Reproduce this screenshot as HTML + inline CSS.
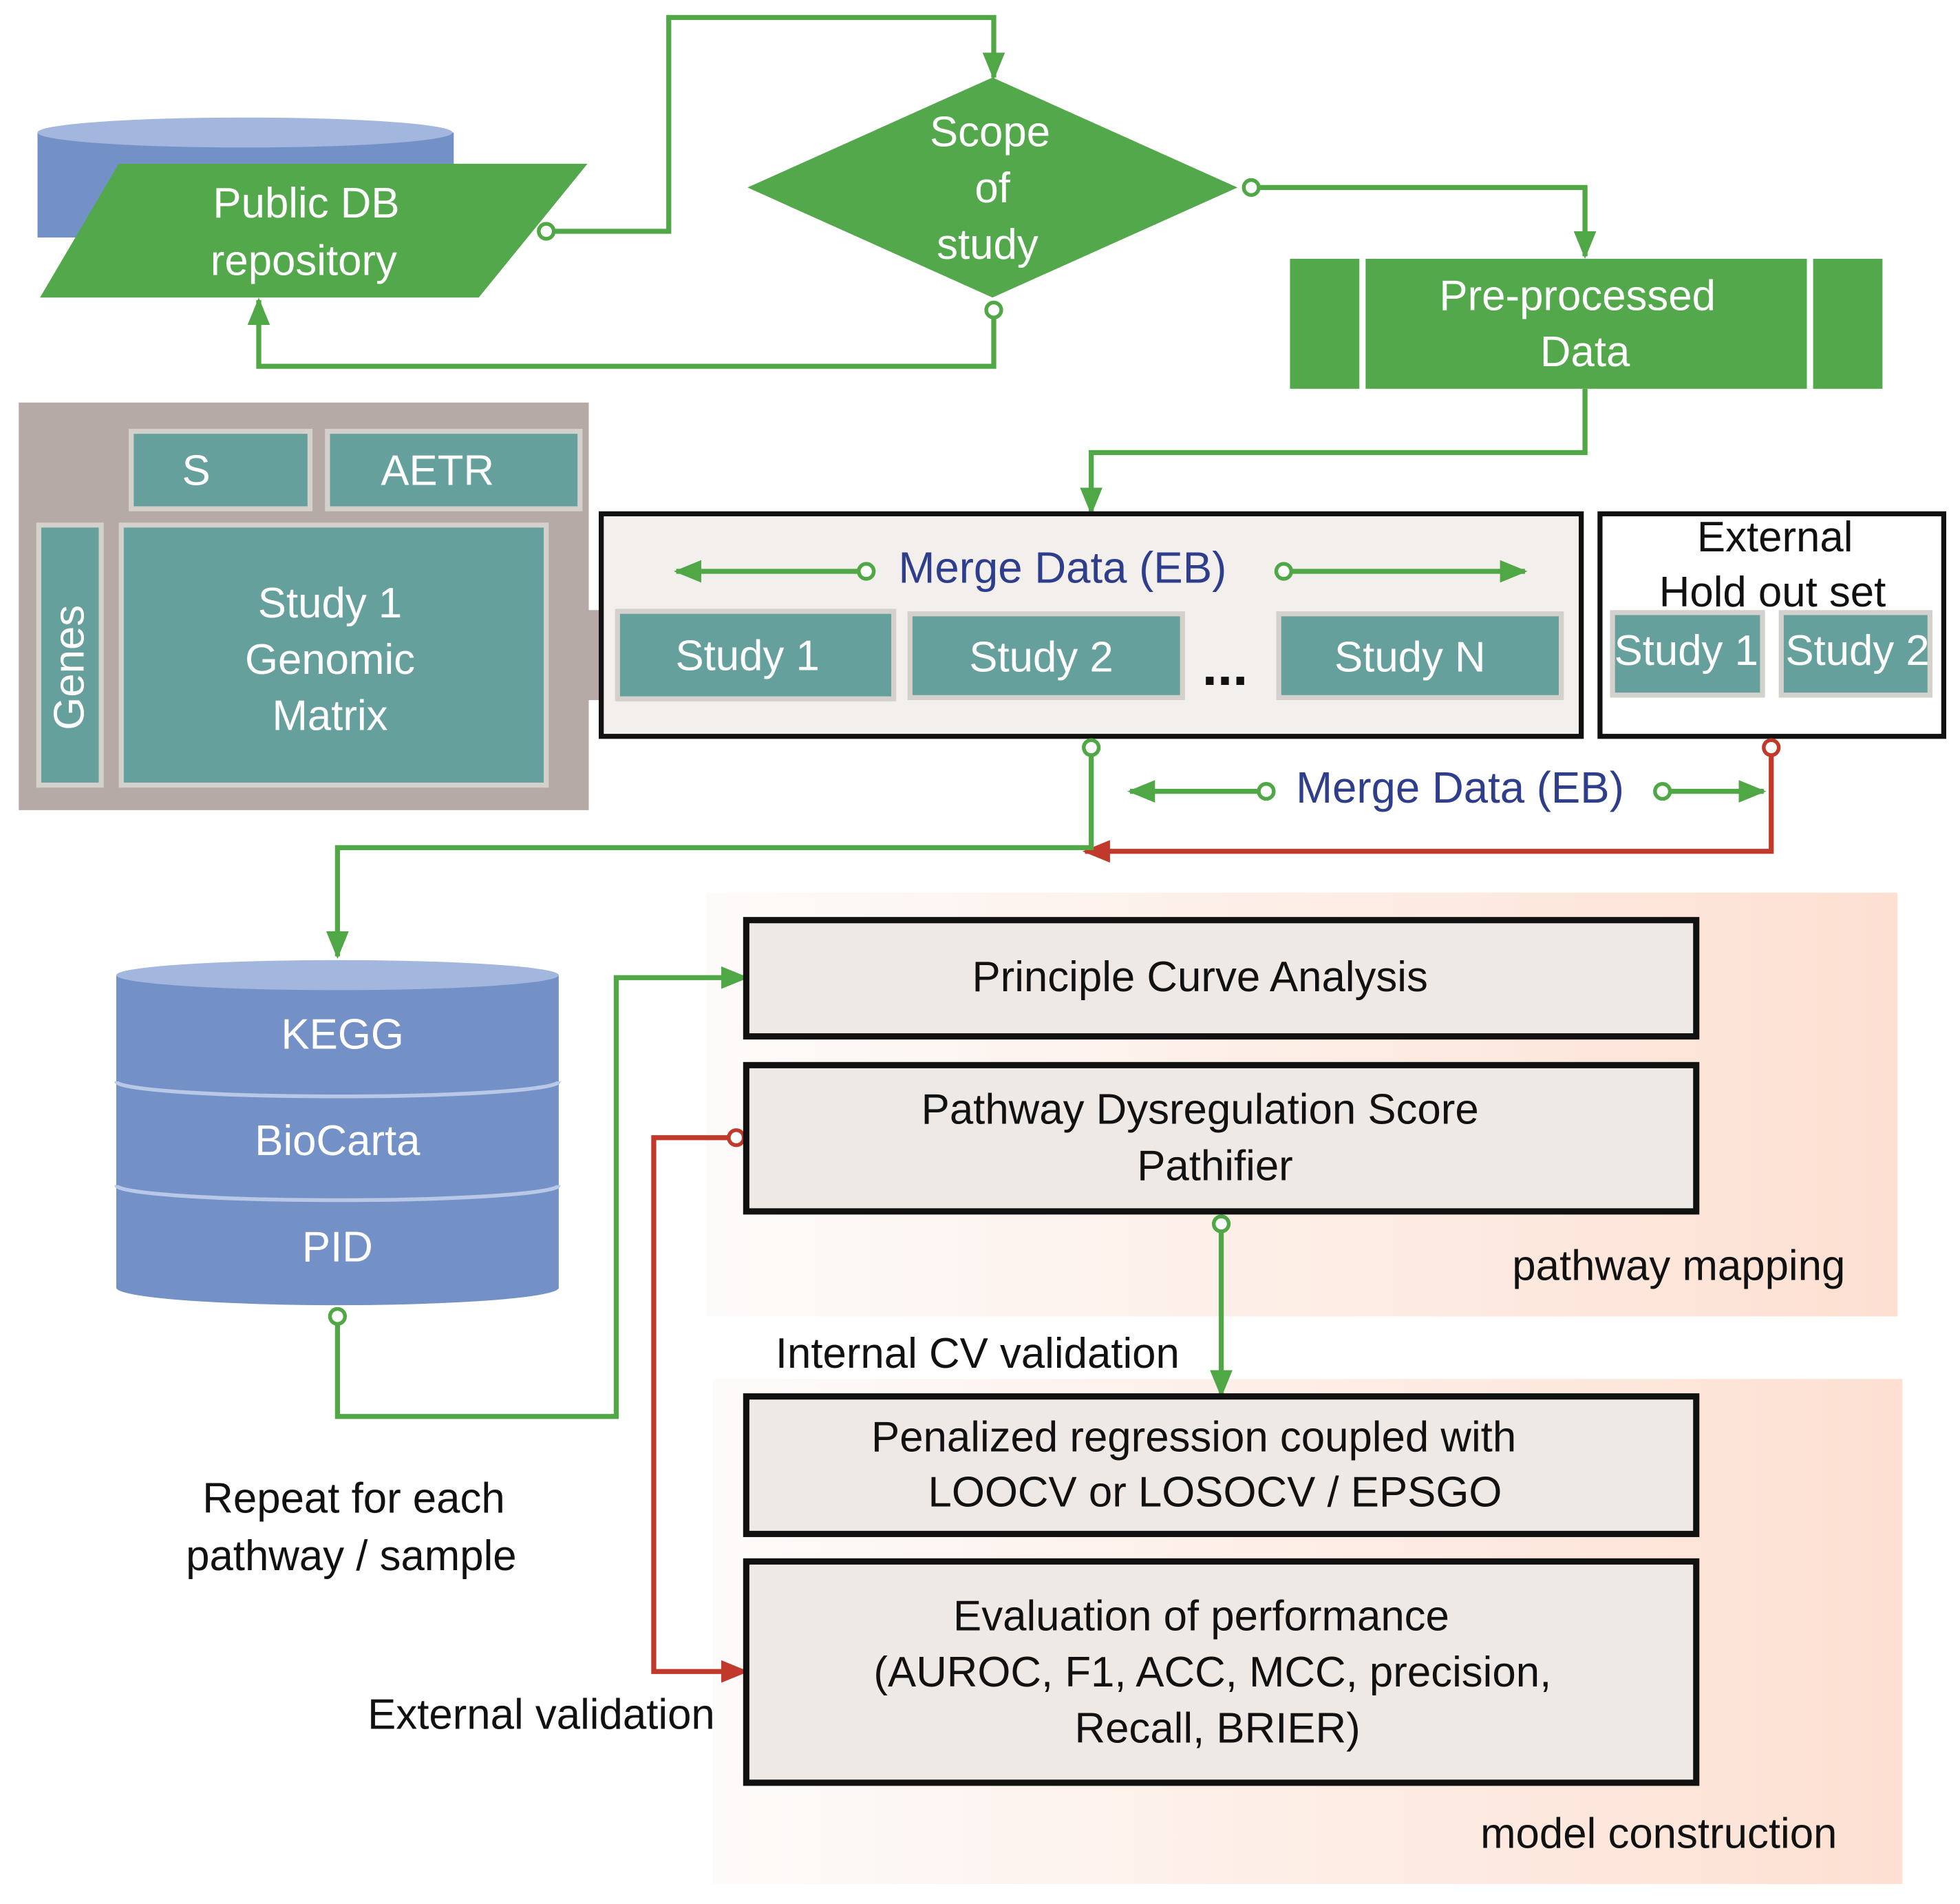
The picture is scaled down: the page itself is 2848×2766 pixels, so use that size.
<!DOCTYPE html>
<html><head><meta charset="utf-8"><style>html,body{margin:0;padding:0;background:#fff}svg{display:block}text{font-family:"Liberation Sans",sans-serif}</style></head><body>
<svg width="2848" height="2766" viewBox="0 0 1568 1523" preserveAspectRatio="none" xmlns="http://www.w3.org/2000/svg">
<defs>
<linearGradient id="pk" x1="0" x2="1" y1="0" y2="0"><stop offset="0" stop-color="#fdfbfa"/><stop offset="1" stop-color="#fde0d2"/></linearGradient>
<marker id="ag" markerWidth="22" markerHeight="18" refX="20" refY="9" orient="auto" markerUnits="userSpaceOnUse" viewBox="0 0 22 18"><path d="M0,0 L22,9 L0,18z" fill="#4fa845"/></marker>
<marker id="ar" markerWidth="22" markerHeight="18" refX="20" refY="9" orient="auto" markerUnits="userSpaceOnUse" viewBox="0 0 22 18"><path d="M0,0 L22,9 L0,18z" fill="#c0392b"/></marker>
</defs>
<style>.g{stroke:#4fa845;stroke-width:4;fill:none}.r{stroke:#c0392b;stroke-width:4;fill:none}.w{fill:#fff;font-size:34px;text-anchor:middle}.k{fill:#111;font-size:34px;text-anchor:middle}.b{fill:#2e3e8a;font-size:35px;text-anchor:middle}.bx{fill:#efe9e6;stroke:#111;stroke-width:5}.t{fill:#66a09d;stroke:#d4d0cc;stroke-width:4}</style>
<rect x="565" y="714" width="953" height="339" fill="url(#pk)"/>
<rect x="570" y="1103" width="952" height="404" fill="url(#pk)"/>
<rect x="30" y="106" width="333" height="84" fill="#7391c7"/>
<ellipse cx="196" cy="106" rx="166" ry="12" fill="#a3b6dd"/>
<polygon points="95,131 470,131 383,238 32,238" fill="#53a84b"/>
<text class="w" x="245" y="174">Public DB</text><text class="w" x="243" y="220">repository</text>
<polygon points="598,150 794,62 990,150 794,238" fill="#53a84b"/>
<text class="w" x="792" y="117">Scope</text><text class="w" x="794" y="162">of</text><text class="w" x="790" y="207">study</text>
<polyline class="g" points="441,185 535,185 535,14 795,14 795,62" marker-end="url(#ag)"/>
<polyline class="g" points="1006,150 1268,150 1268,205" marker-end="url(#ag)"/>
<polyline class="g" points="795,253 795,293 207,293 207,240" marker-end="url(#ag)"/>
<circle cx="437" cy="185" r="6" fill="#fff" stroke="#4fa845" stroke-width="3"/>
<circle cx="1001" cy="150" r="6" fill="#fff" stroke="#4fa845" stroke-width="3"/>
<circle cx="795" cy="248" r="6" fill="#fff" stroke="#4fa845" stroke-width="3"/>
<rect x="1032" y="207" width="474" height="104" fill="#53a84b"/>
<line x1="1090" y1="207" x2="1090" y2="311" stroke="#fff" stroke-width="5"/>
<line x1="1448" y1="207" x2="1448" y2="311" stroke="#fff" stroke-width="5"/>
<text class="w" x="1262" y="248">Pre-processed</text><text class="w" x="1268" y="293">Data</text>
<polyline class="g" points="1268,311 1268,362 873,362 873,410" marker-end="url(#ag)"/>
<rect x="15" y="322" width="456" height="326" fill="#b5aaa5"/>
<rect x="430" y="488" width="65" height="72" fill="#b5aaa5"/>
<rect class="t" x="105" y="345" width="143" height="62"/><text class="w" x="157" y="388">S</text>
<rect class="t" x="262" y="345" width="202" height="62"/><text class="w" x="350" y="388">AETR</text>
<rect class="t" x="31" y="420" width="50" height="208"/><text class="w" transform="translate(67,534) rotate(-90)">Genes</text>
<rect class="t" x="97" y="420" width="340" height="208"/>
<text class="w" x="264" y="494">Study 1</text><text class="w" x="264" y="539">Genomic</text><text class="w" x="264" y="584">Matrix</text>
<rect x="481" y="411" width="784" height="178" fill="#f3efec" stroke="#111" stroke-width="4"/>
<rect class="t" x="494" y="489" width="221" height="70"/><text class="w" x="598" y="536">Study 1</text>
<rect class="t" x="728" y="491" width="218" height="67"/><text class="w" x="833" y="537">Study 2</text>
<text x="980" y="548" font-size="44" fill="#111" text-anchor="middle" font-weight="bold">...</text>
<rect class="t" x="1023" y="491" width="226" height="67"/><text class="w" x="1128" y="537">Study N</text>
<text class="b" x="850" y="466">Merge Data (EB)</text>
<line class="g" x1="688" y1="457" x2="541" y2="457" marker-end="url(#ag)"/><circle cx="693" cy="457" r="6" fill="#fff" stroke="#4fa845" stroke-width="3"/>
<line class="g" x1="1032" y1="457" x2="1220" y2="457" marker-end="url(#ag)"/><circle cx="1027" cy="457" r="6" fill="#fff" stroke="#4fa845" stroke-width="3"/>
<rect x="1280" y="411" width="275" height="178" fill="#fff" stroke="#111" stroke-width="4"/>
<text class="k" x="1420" y="441" font-size="33">External</text><text class="k" x="1418" y="485" font-size="33">Hold out set</text>
<rect class="t" x="1290" y="490" width="120" height="66"/><text class="w" x="1349" y="532" font-size="28">Study 1</text>
<rect class="t" x="1425" y="490" width="119" height="66"/><text class="w" x="1486" y="532" font-size="28">Study 2</text>
<polyline class="r" points="1417,604 1417,681 868,681" marker-end="url(#ar)"/>
<polyline class="g" points="873,604 873,678 270,678 270,765" marker-end="url(#ag)"/>
<circle cx="873" cy="598" r="6" fill="#fff" stroke="#4fa845" stroke-width="3"/>
<circle cx="1417" cy="598" r="6" fill="#fff" stroke="#c0392b" stroke-width="3"/>
<text class="b" x="1168" y="642">Merge Data (EB)</text>
<line class="g" x1="1008" y1="633" x2="904" y2="633" marker-end="url(#ag)"/><circle cx="1013" cy="633" r="6" fill="#fff" stroke="#4fa845" stroke-width="3"/>
<line class="g" x1="1335" y1="633" x2="1411" y2="633" marker-end="url(#ag)"/><circle cx="1330" cy="633" r="6" fill="#fff" stroke="#4fa845" stroke-width="3"/>
<path d="M93,780 L93,1030 A177,14 0 0 0 447,1030 L447,780 Z" fill="#7391c7"/>
<ellipse cx="270" cy="780" rx="177" ry="12" fill="#a3b6dd"/>
<path d="M93,865 A177,12 0 0 0 447,865" fill="none" stroke="#b8c8e6" stroke-width="3"/>
<path d="M93,948 A177,12 0 0 0 447,948" fill="none" stroke="#b8c8e6" stroke-width="3"/>
<text class="w" x="274" y="839">KEGG</text><text class="w" x="270" y="924">BioCarta</text><text class="w" x="270" y="1009">PID</text>
<polyline class="g" points="270,1059 270,1133 493,1133 493,782 597,782" marker-end="url(#ag)"/>
<circle cx="270" cy="1053" r="6" fill="#fff" stroke="#4fa845" stroke-width="3"/>
<polyline class="r" points="583,910 523,910 523,1337 597,1337" marker-end="url(#ar)"/>
<circle cx="589" cy="910" r="6" fill="#fff" stroke="#c0392b" stroke-width="3"/>
<polyline class="g" points="977,985 977,1116" marker-end="url(#ag)"/>
<rect class="bx" x="597" y="736" width="760" height="93"/><text class="k" x="960" y="793">Principle Curve Analysis</text>
<rect class="bx" x="597" y="852" width="760" height="117"/><text class="k" x="960" y="899">Pathway Dysregulation Score</text><text class="k" x="972" y="944">Pathifier</text>
<circle cx="977" cy="979" r="6" fill="#fff" stroke="#4fa845" stroke-width="3"/>
<rect class="bx" x="597" y="1117" width="760" height="110"/><text class="k" x="955" y="1161">Penalized regression coupled with</text><text class="k" x="972" y="1205">LOOCV or LOSOCV / EPSGO</text>
<rect class="bx" x="597" y="1249" width="760" height="177"/><text class="k" x="961" y="1304">Evaluation of performance</text><text class="k" x="970" y="1349">(AUROC, F1, ACC, MCC, precision,</text><text class="k" x="974" y="1394">Recall, BRIER)</text>
<text class="k" x="1343" y="1024">pathway mapping</text>
<text class="k" x="782" y="1094">Internal CV validation</text>
<text class="k" x="1327" y="1478">model construction</text>
<text class="k" x="283" y="1210">Repeat for each</text><text class="k" x="281" y="1256">pathway / sample</text>
<text class="k" x="433" y="1383">External validation</text>
</svg>
</body></html>
